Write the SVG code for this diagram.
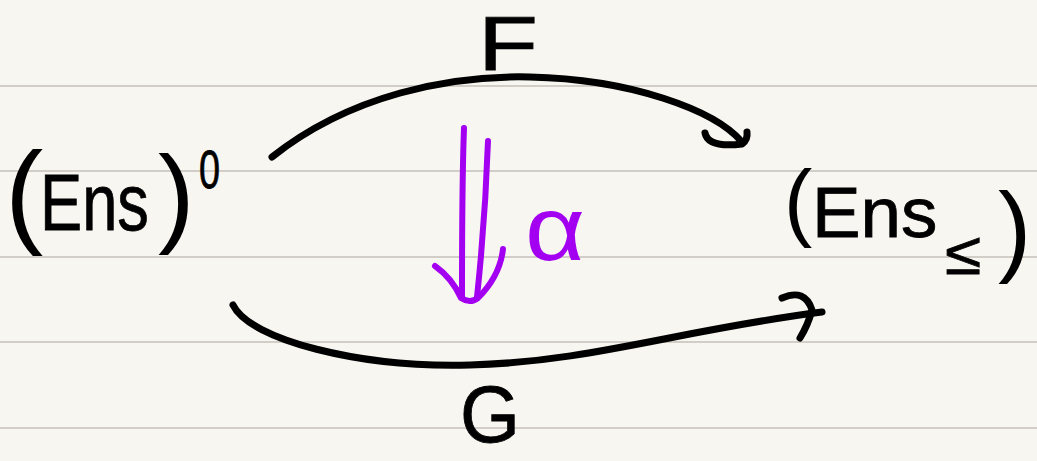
<svg xmlns="http://www.w3.org/2000/svg" width="1037" height="461" viewBox="0 0 1037 461">
<style>
.ink{fill:#000;stroke:#000;stroke-width:0.8;font-family:"Liberation Sans","DejaVu Sans",sans-serif}
.par{fill:#000;font-family:"Liberation Sans","DejaVu Sans",sans-serif}
.pink{fill:#a300f2;font-family:"Liberation Sans","DejaVu Sans",sans-serif}
.rule{stroke:#d2cec7;stroke-width:2}
.arc{fill:none;stroke:#000;stroke-width:7;stroke-linecap:round;stroke-linejoin:round}
.nat{fill:none;stroke:#a300f2;stroke-width:6;stroke-linecap:round;stroke-linejoin:round}
</style>
<rect x="0" y="0" width="1037" height="461" fill="#f8f6f1"/>
<g id="paper">
<line class="rule" x1="0" y1="86" x2="1037" y2="86"/>
<line class="rule" x1="0" y1="171" x2="1037" y2="171"/>
<line class="rule" x1="0" y1="257" x2="1037" y2="257"/>
<line class="rule" x1="0" y1="342" x2="1037" y2="342"/>
<line class="rule" x1="0" y1="428" x2="1037" y2="428"/>
</g>
<g id="connectors">
<g id="arrow-F">
<path class="arc" d="M272,157 C350,95 450,75 530,77 C630,79 715,110 742,142"/>
<path class="arc" d="M705,133 Q708,148 742,144 Q748,140 747,132"/>
</g>
<g id="arrow-G">
<path class="arc" d="M233,305 C250,340 360,368 470,365 C590,362 680,330 822,312"/>
<path class="arc" d="M782,298 Q805,288 812,310 Q808,325 800,338"/>
</g>
<g id="arrow-alpha">
<path class="nat" d="M464,128 C462,180 462,240 462,297"/>
<path class="nat" d="M488,141 C486,200 482,250 477,297"/>
<path class="nat" d="M435,266 Q452,278 461,298 Q470,304 478,298 Q500,276 503,249"/>
</g>
</g>
<g id="node-ens-op">
<text class="par" x="5" y="232" font-size="115">(</text>
<text class="ink" transform="translate(40,230) scale(0.79,1)" font-size="80">Ens</text>
<text class="par" x="158" y="232" font-size="110">)</text>
<text class="ink" transform="translate(199,188) scale(0.7,1)" font-size="54">0</text>
</g>
<g id="node-ens-le">
<text class="par" x="784" y="230" font-size="85">(</text>
<text class="ink" transform="translate(812,237) scale(1.04,1)" font-size="70">Ens</text>
<text class="ink" transform="translate(945,274) scale(1.1,1)" font-size="60">≤</text>
<text class="par" x="998" y="263" font-size="100">)</text>
</g>
<g id="label-F">
<text class="ink" x="478" y="70" font-size="76" textLength="60" lengthAdjust="spacingAndGlyphs">F</text>
</g>
<g id="label-G">
<text class="ink" x="460" y="442" font-size="80" textLength="60" lengthAdjust="spacingAndGlyphs">G</text>
</g>
<g id="label-alpha">
<text class="pink" x="525" y="260" font-size="90" textLength="60" lengthAdjust="spacingAndGlyphs">α</text>
</g>
</svg>
